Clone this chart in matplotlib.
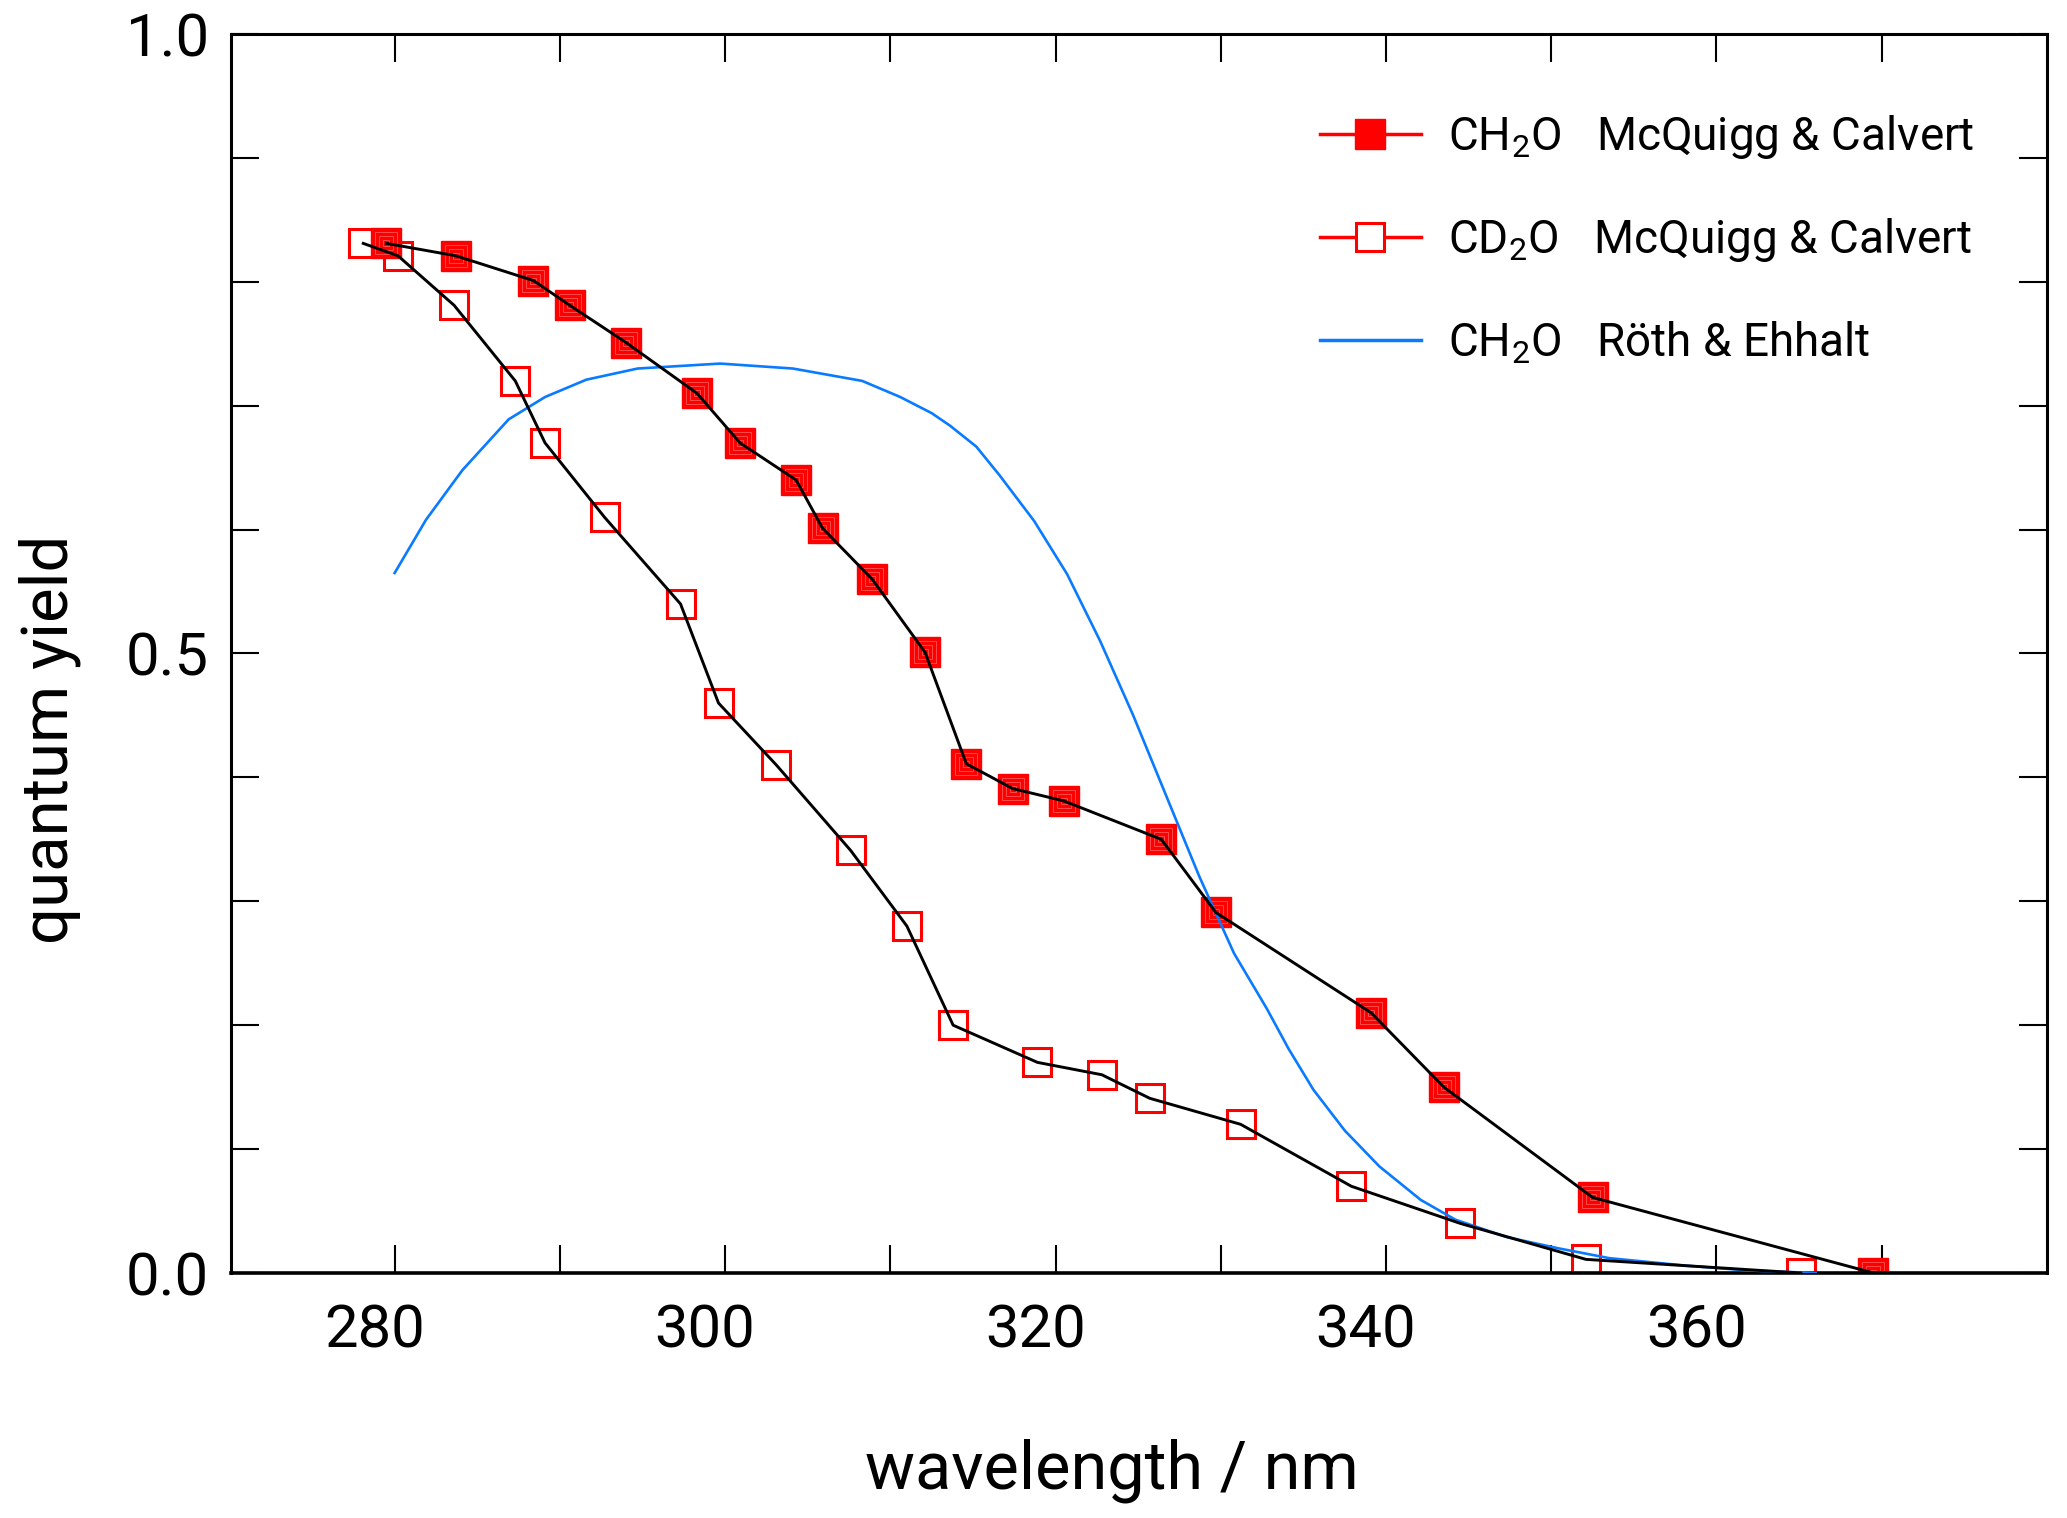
import matplotlib
matplotlib.use("Agg")
import matplotlib.pyplot as plt
import matplotlib.transforms as mtransforms
from matplotlib.lines import Line2D

plt.rcParams['font.family'] = ['Roboto', 'DejaVu Sans']
plt.rcParams['font.weight'] = 'normal'
plt.rcParams['mathtext.default'] = 'regular'

# ---- data ----
ch2o_mc_wl = [279.5, 283.7, 288.4, 290.6, 294.0, 298.3, 300.9, 304.3, 305.9, 308.9,
              312.1, 314.6, 317.4, 320.5, 326.4, 329.7, 339.1, 343.5, 352.5, 369.5]
ch2o_mc_qy = [0.831, 0.821, 0.801, 0.781, 0.751, 0.710, 0.670, 0.640, 0.601, 0.560,
              0.501, 0.411, 0.391, 0.381, 0.350, 0.291, 0.210, 0.150, 0.061, 0.000]

cd2o_mc_wl = [278.1, 280.2, 283.6, 287.3, 289.1, 292.7, 297.3, 299.6, 303.1, 307.6,
              311.0, 313.8, 318.9, 322.8, 325.7, 331.2, 337.9, 344.5, 352.1, 365.1]
cd2o_mc_qy = [0.831, 0.821, 0.781, 0.720, 0.670, 0.610, 0.540, 0.460, 0.410, 0.341,
              0.280, 0.200, 0.170, 0.160, 0.141, 0.120, 0.070, 0.040, 0.011, 0.000]

ch2o_re_wl = [280.0, 281.9, 284.1, 286.9, 289.1, 291.6, 294.7, 299.7, 304.1, 308.3,
              310.6, 312.5, 313.6, 315.2, 316.6, 318.7, 320.7, 322.7,
              324.7, 326.7, 328.7, 330.8, 332.8, 334.1, 335.6, 337.5, 339.6, 342.1,
              344.2, 347.3, 350.4, 353.5, 358.1, 362.0, 366.0]
ch2o_re_qy = [0.565, 0.608, 0.648, 0.689, 0.707, 0.721, 0.730, 0.734, 0.730, 0.720,
              0.707, 0.694, 0.684, 0.667, 0.644, 0.607, 0.564, 0.510,
              0.450, 0.385, 0.320, 0.258, 0.213, 0.181, 0.148, 0.115, 0.086, 0.059,
              0.043, 0.029, 0.020, 0.012, 0.006, 0.002, 0.000]

x_major = [280, 300, 320, 340, 360]
x_minor = [290, 310, 330, 350, 370]
y_major = [0.0, 0.5, 1.0]
y_minor = [0.1, 0.2, 0.3, 0.4, 0.6, 0.7, 0.8, 0.9]

labels = [r'CH$_2$O   McQuigg & Calvert',
          r'CD$_2$O   McQuigg & Calvert',
          r'CH$_2$O   Röth & Ehhalt']

RED = '#ff0000'
BLUE = '#0a7bff'

fig = plt.figure(figsize=(20.67, 15.18), dpi=100)
ax = fig.add_axes([0.1118, 0.1614, 0.9903 - 0.1118, 0.9776 - 0.1614])

ms = 22
# markers
ax.plot(cd2o_mc_wl, cd2o_mc_qy, ls='none', marker='s', ms=ms - 1.5, mfc='none',
        mec=RED, mew=2.2, zorder=2)
ax.plot(ch2o_mc_wl, ch2o_mc_qy, ls='none', marker='s', ms=ms, mfc=RED,
        mec=RED, mew=1.0, zorder=2)
for f in (0.72, 0.45, 0.2):
    ax.plot(ch2o_mc_wl, ch2o_mc_qy, ls='none', marker='s', ms=ms * f, mfc='none',
            mec='#ff4a4a', mew=0.7, zorder=2)

# blue curve
ax.plot(ch2o_re_wl, ch2o_re_qy, color=BLUE, lw=1.9, zorder=3,
        solid_joinstyle='round')

# black connecting lines
ax.plot(ch2o_mc_wl, ch2o_mc_qy, color='black', lw=2.1, zorder=4)
ax.plot(cd2o_mc_wl, cd2o_mc_qy, color='black', lw=2.1, zorder=4)

ax.set_xlim(270.1, 380.0)
ax.set_ylim(0.0, 1.0)

ax.set_xticks(x_major)
ax.set_xticks(x_minor, minor=True)
ax.set_yticks(y_major)
ax.set_yticks(y_minor, minor=True)
ax.set_xticklabels([str(v) for v in x_major])
ax.set_yticklabels(['%.1f' % v for v in y_major])

ax.tick_params(which='both', direction='in', top=True, right=True,
               length=20, width=1.5, labelsize=43, color='black')
ax.tick_params(axis='x', which='major', pad=21)
ax.tick_params(axis='y', which='major', pad=16)

for s in ax.spines.values():
    s.set_linewidth(2.2)
ax.spines['bottom'].set_linewidth(2.6)

# shift x tick labels slightly left as in reference
offset = mtransforms.ScaledTranslation(-0.2, 0, fig.dpi_scale_trans)
for lab in ax.get_xticklabels():
    lab.set_transform(lab.get_transform() + offset)

ax.set_xlabel('wavelength / nm', fontsize=48)
ax.xaxis.set_label_coords(0.485, -0.160)
ax.xaxis.label.set_va('center')
ax.set_ylabel('quantum yield', fontsize=47)
ax.yaxis.label.set_va('center')
ax.yaxis.set_label_coords(-0.0997, 0.431)

handles = [
    Line2D([], [], color=RED, lw=2.5, marker='s', ms=ms, mfc=RED, mec=RED),
    Line2D([], [], color=RED, lw=2.5, marker='s', ms=ms - 1.5, mfc='white', mec=RED, mew=2.2),
    Line2D([], [], color=BLUE, lw=2.5),
]
leg = ax.legend(handles, labels, loc='upper left', bbox_to_anchor=(0.5997, 0.936),
                frameon=False, fontsize=33, handlelength=2.2, handletextpad=0.6,
                labelspacing=1.2, borderpad=0, borderaxespad=0)

fig.savefig('out.png', dpi=100)
